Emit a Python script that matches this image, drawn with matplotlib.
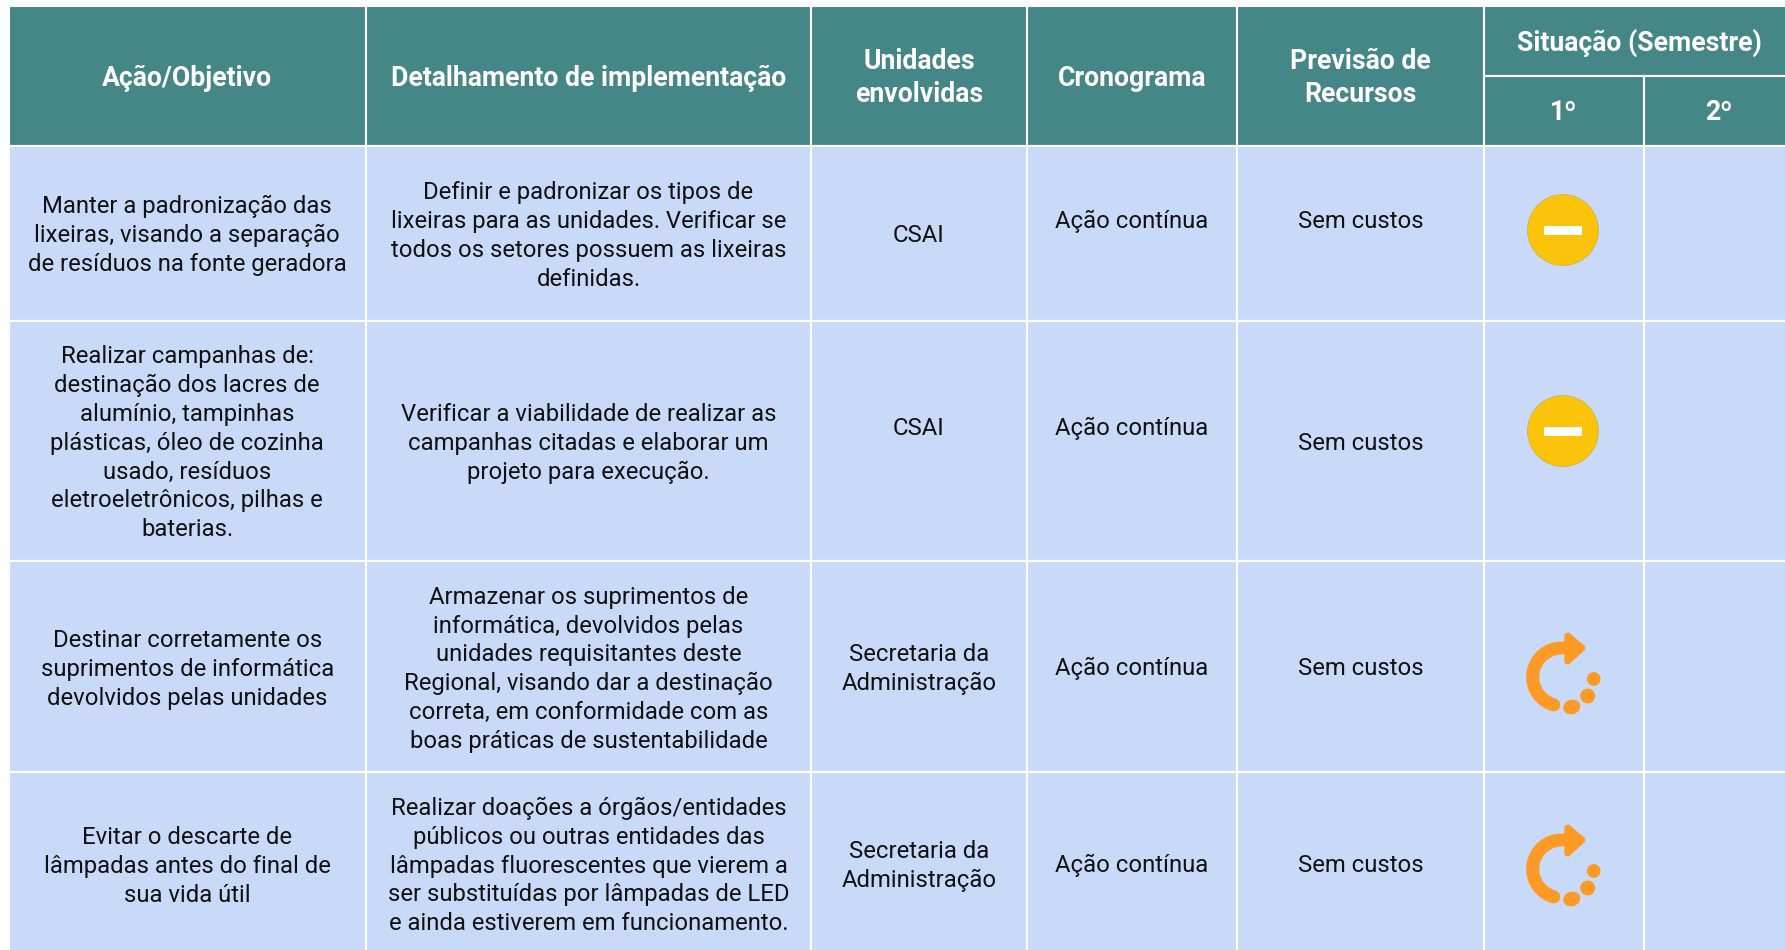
import matplotlib
matplotlib.use("Agg")
import matplotlib.pyplot as plt
from matplotlib.patches import Rectangle, Circle, Ellipse, Arc, Polygon

plt.rcParams['font.family'] = ['Roboto', 'DejaVu Sans']

headers = ["Ação/Objetivo", "Detalhamento de implementação", "Unidades\nenvolvidas", "Cronograma", "Previsão de\nRecursos"]
group_header = "Situação (Semestre)"
semesters = ["1º", "2º"]

acoes = [
    "Manter a padronização das\nlixeiras, visando a separação\nde resíduos na fonte geradora",
    "Realizar campanhas de:\ndestinação dos lacres de\nalumínio, tampinhas\nplásticas, óleo de cozinha\nusado, resíduos\neletroeletrônicos, pilhas e\nbaterias.",
    "Destinar corretamente os\nsuprimentos de informática\ndevolvidos pelas unidades",
    "Evitar o descarte de\nlâmpadas antes do final de\nsua vida útil",
]
detalhes = [
    "Definir e padronizar os tipos de\nlixeiras para as unidades. Verificar se\ntodos os setores possuem as lixeiras\ndefinidas.",
    "Verificar a viabilidade de realizar as\ncampanhas citadas e elaborar um\nprojeto para execução.",
    "Armazenar os suprimentos de\ninformática, devolvidos pelas\nunidades requisitantes deste\nRegional, visando dar a destinação\ncorreta, em conformidade com as\nboas práticas de sustentabilidade",
    "Realizar doações a órgãos/entidades\npúblicos ou outras entidades das\nlâmpadas fluorescentes que vierem a\nser substituídas por lâmpadas de LED\ne ainda estiverem em funcionamento.",
]
unidades = ["CSAI", "CSAI", "Secretaria da\nAdministração", "Secretaria da\nAdministração"]
cronograma = ["Ação contínua"] * 4
recursos = ["Sem custos"] * 4
situacao = ["parcial", "parcial", "andamento", "andamento"]

# layout, pixels of the 1785x950 picture (last column runs off the right edge)
col_edges = [8.5, 366, 811, 1027, 1237, 1484, 1643.5, 1795]
row_edges = [5.5, 145.5, 321, 561, 772, 962]
text_y = [
    [233.6, 234, 233, 219.5, 219.5],
    [441.2, 441.2, 426.5, 426.5, 441.2],
    [667.2, 667.2, 667.2, 666.5, 666.5],
    [864.1, 864.1, 864.1, 863.5, 863.5],
]
icon_y = [230, 431, 677, 869]

TEAL = "#458686"
BLUE = "#C9DAF8"
YELLOW = "#FCC30B"
ORANGE = "#FD9A25"
BODY_SIZE = 17.2
HEAD_SIZE = 19.2
BODY_STEP = 28.8
HEAD_STEP = 32.6


def put_lines(ax, x, y, text, size, step, color, weight="normal"):
    lines = text.split("\n")
    for i, line in enumerate(lines):
        base = y + (i - (len(lines) - 1) / 2) * step + size * 0.5
        ax.text(x, base, line, fontsize=size, color=color, weight=weight, ha="center", va="baseline")


def cell(ax, x0, x1, y0, y1, color):
    ax.add_patch(Rectangle((x0, y0), x1 - x0, y1 - y0, facecolor=color, edgecolor="white", linewidth=1.5))


def draw_parcial(ax, x, y):
    ax.add_patch(Circle((x, y), 35.5, facecolor=YELLOW, edgecolor="#C8A838", linewidth=0.4))
    ax.add_patch(Rectangle((x - 19, y - 4.5), 38, 9, facecolor="white", edgecolor="none"))


def draw_andamento(ax, x, y):
    ax.add_patch(Arc((x, y), 58, 58, theta1=106, theta2=270, color=ORANGE, linewidth=9.4, capstyle="round"))
    ax.add_patch(Polygon([(x + 6, y - 41), (x + 20, y - 29), (x + 6, y - 16)], closed=True,
                         facecolor=ORANGE, edgecolor=ORANGE, linewidth=5, joinstyle="round"))
    ax.add_patch(Circle((x + 32, y + 2), 6.2, color=ORANGE))
    ax.add_patch(Circle((x + 26, y + 19), 6.8, color=ORANGE))
    ax.add_patch(Ellipse((x + 10, y + 30), 16, 13, angle=-15, color=ORANGE))


def main():
    fig = plt.figure(figsize=(17.85, 9.5), dpi=100)
    ax = fig.add_axes([0, 0, 1, 1])
    ax.set_xlim(0, 1785)
    ax.set_ylim(950, 0)
    ax.axis("off")

    # header
    for c, title in enumerate(headers):
        cell(ax, col_edges[c], col_edges[c + 1], row_edges[0], row_edges[1], TEAL)
        x = (col_edges[c] + col_edges[c + 1]) / 2
        put_lines(ax, x, 76, title, HEAD_SIZE, HEAD_STEP, "white", "bold")
    cell(ax, col_edges[5], col_edges[7], row_edges[0], 75.5, TEAL)
    put_lines(ax, (col_edges[5] + col_edges[7]) / 2, 41, group_header, HEAD_SIZE, HEAD_STEP, "white", "bold")
    for c, sem in enumerate(semesters):
        cell(ax, col_edges[5 + c], col_edges[6 + c], 75.5, row_edges[1], TEAL)
        put_lines(ax, (col_edges[5 + c] + col_edges[6 + c]) / 2, 110, sem, HEAD_SIZE, HEAD_STEP, "white", "bold")

    # body
    columns = [acoes, detalhes, unidades, cronograma, recursos]
    for r in range(len(acoes)):
        y0, y1 = row_edges[r + 1], row_edges[r + 2]
        for c in range(7):
            cell(ax, col_edges[c], col_edges[c + 1], y0, y1, BLUE)
        for c, values in enumerate(columns):
            x = (col_edges[c] + col_edges[c + 1]) / 2
            put_lines(ax, x, text_y[r][c], values[r], BODY_SIZE, BODY_STEP, "#111111")
        if situacao[r] == "parcial":
            draw_parcial(ax, 1563, icon_y[r])
        else:
            draw_andamento(ax, 1561.7, icon_y[r])

    fig.savefig("out.png", dpi=100)


if __name__ == "__main__":
    main()
